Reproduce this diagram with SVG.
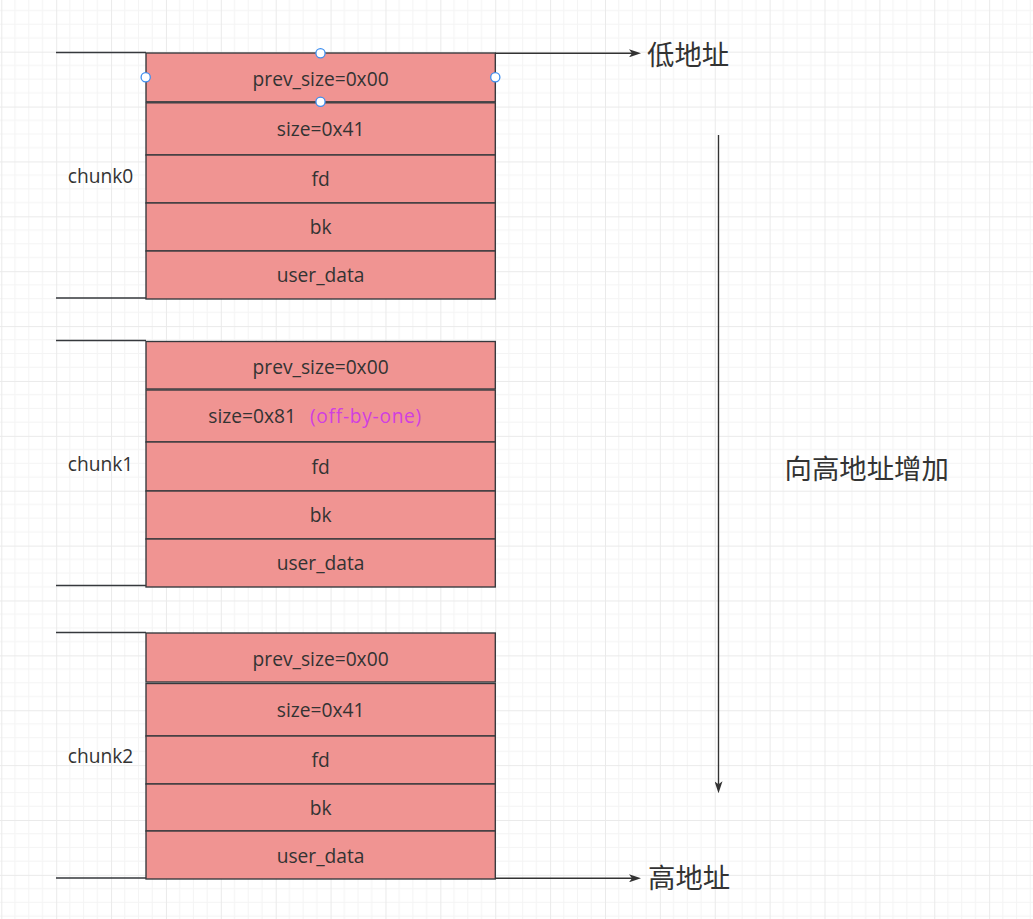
<svg xmlns="http://www.w3.org/2000/svg" width="1033" height="919" viewBox="0 0 1033 919">
<defs>
<pattern id="grid" patternUnits="userSpaceOnUse" x="1.3" y="-3.2" width="54.88" height="54.88">
<path d="M13.72,0V54.88M27.44,0V54.88M41.16,0V54.88M0,13.72H54.88M0,27.44H54.88M0,41.16H54.88" stroke="#f4f4f4" stroke-width="1" fill="none"/>
<path d="M0.5,0V54.88M0,0.5H54.88" stroke="#eaeaea" stroke-width="1" fill="none"/>
</pattern>
<marker id="arr" markerUnits="userSpaceOnUse" viewBox="0 0 12 8" refX="3" refY="4" markerWidth="12" markerHeight="8" orient="auto">
<path d="M0,0 L12,4 L0,8 L3,4 Z" fill="#333333"/>
</marker>
<style>
.row{fill:#f09492;stroke:#36393d;stroke-width:1.36}
.br{fill:none;stroke:#36393d;stroke-width:1.36}
.lbl{font-family:"Open Sans","Noto Sans CJK SC",sans-serif;font-size:19.2px;fill:#333333;text-anchor:middle}
.lbs{font-family:"Open Sans","Noto Sans CJK SC",sans-serif;font-size:19.2px;fill:#333333;text-anchor:start}
.mag{fill:#d03fe0;letter-spacing:0.7px}
.cn{font-family:"Noto Sans CJK SC","Noto Sans CJK JP",sans-serif;font-size:27.4px;fill:#333333}
.conn{fill:none;stroke:#333333;stroke-width:1.36}
.hdl{fill:#ffffff;stroke:#3d8ef0;stroke-width:1.3}
</style>
</defs>
<rect width="1033" height="919" fill="#ffffff"/>
<rect width="1033" height="919" fill="url(#grid)"/>

<g id="chunk0-label">
<path class="br" d="M56,52.5H146M56,298H146"/>
<text class="lbl" x="100.5" y="183">chunk0</text>
</g>
<g id="chunk0-prev_size"><rect class="row" x="146" y="53" width="349.3" height="48.8"/><text class="lbl" x="320.6" y="86">prev_size=0x00</text></g>
<g id="chunk0-size"><rect class="row" x="146" y="102.8" width="349.3" height="52.2"/><text class="lbl" x="320.6" y="136">size=0x41</text></g>
<g id="chunk0-fd"><rect class="row" x="146" y="155" width="349.3" height="48"/><text class="lbl" x="320.6" y="186">fd</text></g>
<g id="chunk0-bk"><rect class="row" x="146" y="203" width="349.3" height="48"/><text class="lbl" x="320.6" y="234">bk</text></g>
<g id="chunk0-user_data"><rect class="row" x="146" y="251" width="349.3" height="48"/><text class="lbl" x="320.6" y="282">user_data</text></g>

<g id="chunk1-label">
<path class="br" d="M56,340.5H146M56,585.5H146"/>
<text class="lbl" x="100.5" y="471">chunk1</text>
</g>
<g id="chunk1-prev_size"><rect class="row" x="146" y="341.5" width="349.3" height="47.5"/><text class="lbl" x="320.6" y="374">prev_size=0x00</text></g>
<g id="chunk1-size"><rect class="row" x="146" y="390" width="349.3" height="52"/><text class="lbs" x="208.3" y="423">size=0x81<tspan class="mag" x="310">(off-by-one)</tspan></text></g>
<g id="chunk1-fd"><rect class="row" x="146" y="442" width="349.3" height="49"/><text class="lbl" x="320.6" y="473.5">fd</text></g>
<g id="chunk1-bk"><rect class="row" x="146" y="491" width="349.3" height="48"/><text class="lbl" x="320.6" y="522">bk</text></g>
<g id="chunk1-user_data"><rect class="row" x="146" y="539" width="349.3" height="48"/><text class="lbl" x="320.6" y="570">user_data</text></g>

<g id="chunk2-label">
<path class="br" d="M56,632.5H146M56,878H146"/>
<text class="lbl" x="100.5" y="763">chunk2</text>
</g>
<g id="chunk2-prev_size"><rect class="row" x="146" y="633" width="349.3" height="49"/><text class="lbl" x="320.6" y="666">prev_size=0x00</text></g>
<g id="chunk2-size"><rect class="row" x="146" y="683.5" width="349.3" height="52.5"/><text class="lbl" x="320.6" y="717">size=0x41</text></g>
<g id="chunk2-fd"><rect class="row" x="146" y="736" width="349.3" height="48"/><text class="lbl" x="320.6" y="767">fd</text></g>
<g id="chunk2-bk"><rect class="row" x="146" y="784" width="349.3" height="47"/><text class="lbl" x="320.6" y="814.5">bk</text></g>
<g id="chunk2-user_data"><rect class="row" x="146" y="831" width="349.3" height="48"/><text class="lbl" x="320.6" y="862.5">user_data</text></g>

<g id="low-addr"><text class="cn" x="647" y="65">低地址</text></g>
<g id="high-addr"><text class="cn" x="648" y="888">高地址</text></g>
<g id="increase"><text class="cn" x="784.5" y="479">向高地址增加</text></g>

<g id="connectors">
<path class="conn" d="M495.3,53.3H632" marker-end="url(#arr)"/>
<path class="conn" d="M495.3,878.3H632" marker-end="url(#arr)"/>
<path class="conn" d="M718.5,135V784.3" marker-end="url(#arr)"/>
</g>

<g id="selection-handles">
<circle class="hdl" cx="320.5" cy="53.3" r="4.6"/>
<circle class="hdl" cx="145.7" cy="77.3" r="4.6"/>
<circle class="hdl" cx="495.3" cy="77.3" r="4.6"/>
<circle class="hdl" cx="320.5" cy="101.8" r="4.6"/>
</g>
</svg>
